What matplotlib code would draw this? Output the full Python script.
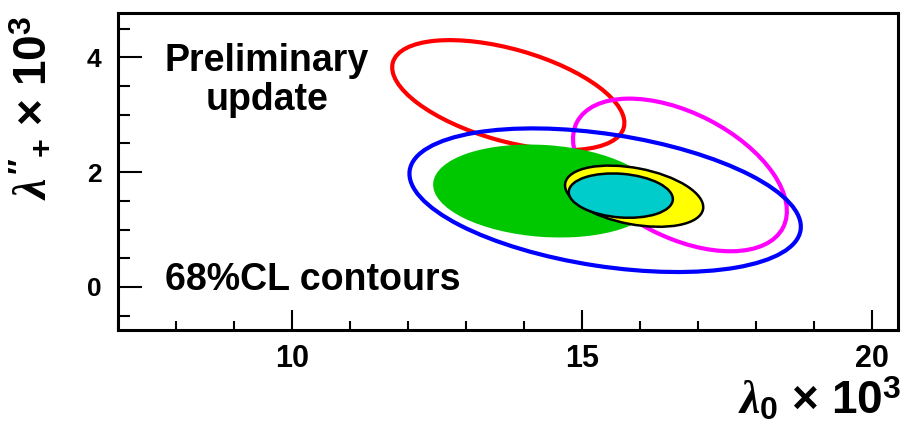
import matplotlib
matplotlib.use('Agg')
import matplotlib.pyplot as plt
from matplotlib.patches import Ellipse
from matplotlib.ticker import MultipleLocator

plt.rcParams['font.family'] = ['Liberation Sans', 'DejaVu Sans']
plt.rcParams['font.weight'] = 'bold'
plt.rcParams['mathtext.fontset'] = 'custom'
plt.rcParams['mathtext.rm'] = 'Liberation Sans:bold'
plt.rcParams['mathtext.bf'] = 'Liberation Sans:bold'
plt.rcParams['mathtext.it'] = 'Liberation Serif:italic:bold'

# 68% CL contours (lambda0 x 1e3, lambda''+ x 1e3)
names = ['blue', 'red', 'magenta', 'green', 'yellow', 'cyan']
centers_x = [15.40, 13.73, 16.69, 14.36, 15.90, 15.67]
centers_y = [1.51, 3.34, 1.95, 1.67, 1.58, 1.59]
semi_major = [3.41, 2.07, 2.00, 1.93, 1.21, 0.90]
semi_minor = [1.15, 0.80, 1.08, 0.80, 0.49, 0.38]
angles = [-8.8, -16.0, -27.4, -4.0, -10.9, -4.7]

x_ticks = [10, 15, 20]
y_ticks = [0, 2, 4]

# drawing style per contour
edge = {'blue': '#0000ff', 'red': '#ff0000', 'magenta': '#ff00ff',
        'green': 'none', 'yellow': 'black', 'cyan': 'black'}
face = {'blue': 'none', 'red': 'none', 'magenta': 'none',
        'green': '#00c800', 'yellow': '#ffff00', 'cyan': '#00cccc'}
lw = {'blue': 3.0, 'red': 3.0, 'magenta': 3.0, 'green': 0, 'yellow': 1.8, 'cyan': 1.8}
zo = {'blue': 2, 'red': 1, 'magenta': 1, 'green': 3, 'yellow': 4, 'cyan': 5}

fig = plt.figure(figsize=(9.08, 4.25), dpi=100)
ax = fig.add_axes([118/908, 1-330/425, 780/908, 317/425])

for i, n in enumerate(names):
    e = Ellipse((centers_x[i], centers_y[i]), 2*semi_major[i], 2*semi_minor[i],
                angle=angles[i], facecolor=face[n], edgecolor=edge[n],
                linewidth=lw[n], zorder=zo[n])
    ax.add_patch(e)

ax.set_xlim(7.0, 20.45)
ax.set_ylim(-0.75, 4.77)

ax.xaxis.set_major_locator(MultipleLocator(5))
ax.xaxis.set_minor_locator(MultipleLocator(1))
ax.yaxis.set_major_locator(MultipleLocator(2))
ax.yaxis.set_minor_locator(MultipleLocator(0.5))
ax.set_xticks(x_ticks)
ax.set_yticks(y_ticks)

ax.tick_params(axis='x', which='major', direction='in', length=14.5, width=1.5,
               labelsize=22, pad=10, top=False)
ax.tick_params(axis='x', which='minor', direction='in', length=6.5, width=1.5, top=False)
ax.tick_params(axis='y', which='major', direction='in', length=17, width=1.5,
               labelsize=19, pad=12, right=False)
ax.tick_params(axis='y', which='minor', direction='in', length=8.5, width=1.5, right=False)
for s in ax.spines.values():
    s.set_linewidth(2.2)

ax.text(9.57, 4.24, 'Preliminary\nupdate', ha='center', va='top', fontsize=27,
        fontweight='bold', linespacing=1.1)
ax.text(7.81, -0.05, '68%CL contours', ha='left', va='baseline', fontsize=27,
        fontweight='bold')

fig.text(33/908, 1-108/425, r"$\lambda''_{+}$ × 10$^{3}$", rotation=90,
         ha='center', va='center', fontsize=33, fontweight='bold')
fig.text(901/908, 1-400/425, r"$\lambda_{0}$ × 10$^{3}$", ha='right', va='center',
         fontsize=33, fontweight='bold')

fig.savefig('out.png', dpi=100)
